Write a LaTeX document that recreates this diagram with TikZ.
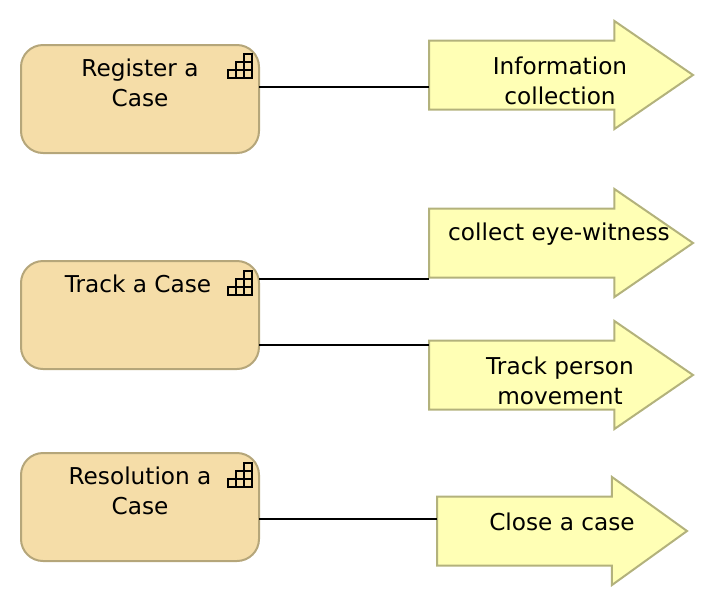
\documentclass[tikz,border=0pt]{standalone}
\usepackage{fontspec}
\setmainfont{DejaVu Sans}
\usetikzlibrary{shapes.arrows, positioning}
\definecolor{boxfill}{HTML}{F5DDA8}
\definecolor{boxline}{HTML}{B5A67A}
\definecolor{arrowfill}{HTML}{FFFFB5}
\definecolor{arrowline}{HTML}{B3B27C}
\tikzset{
    casebox/.style={draw=boxline, fill=boxfill, line width=2pt, rounded corners=22pt, minimum width=238pt, minimum height=108pt, inner sep=0pt, outer sep=0pt},
    casearrow/.style={draw=arrowline, fill=arrowfill, line width=2pt, single arrow, single arrow head extend=19.5pt, single arrow tip angle=69, text height=67pt, text depth=0pt, text width=0pt, inner sep=0pt, outer sep=0pt, anchor=tail, shape border rotate=0},
    casetext/.style={font=\fontsize{23.2}{30}\selectfont, align=center, inner sep=0pt},
    link/.style={line width=1.5pt, black},
    stairs/.pic={
        \foreach \x/\y in {0/16, 8/16, 16/16, 8/8, 16/8, 16/0} \draw[line width=2pt] (\x,\y) rectangle ++(8,8);
    }
}
\begin{document}
\begin{tikzpicture}[x=1pt, y=-1pt]
        \useasboundingbox (0,0) rectangle (714,606);

        % Links
        \node[casebox] (register) at (140,99) {};
        \node[casebox] (track) at (140,315) {};
        \node[casebox] (resolution) at (140,507) {};

        \node[casearrow, minimum height=264pt] (information) at (429,75) {};
        \node[casearrow, minimum height=264pt] (witness) at (429,243) {};
        \node[casearrow, minimum height=264pt] (movement) at (429,375) {};
        \node[casearrow, minimum height=250pt, single arrow tip angle=71.5] (close) at (437,531) {};

        \draw[link] (register.east |- 0,87) -- (information.tail |- 0,87);
        \draw[link] (track.east |- 0,279) -- (witness.tail |- 0,279);
        \draw[link] (track.east |- 0,345) -- (movement.tail |- 0,345);
        \draw[link] (resolution.east |- 0,519) -- (close.tail |- 0,519);

        % Icons
        \pic at (227.5,54) {stairs};
        \pic at (227.5,271) {stairs};
        \pic at (227.5,463) {stairs};

        % Labels
        \node[casetext] (registertext) at (140,83) {Register a\\Case};
        \node[casetext] (tracktext) at (138,284) {Track a Case};
        \node[casetext] (resolutiontext) at (140,491) {Resolution a\\Case};
        \node[casetext] (informationtext) at (560,81) {Information\\collection};
        \node[casetext] (witnesstext) at (559,234) {collect eye-witness};
        \node[casetext] (movementtext) at (560,381) {Track person\\movement};
        \node[casetext] (closetext) at (562,522) {Close a case};
    \end{tikzpicture}
\end{document}
